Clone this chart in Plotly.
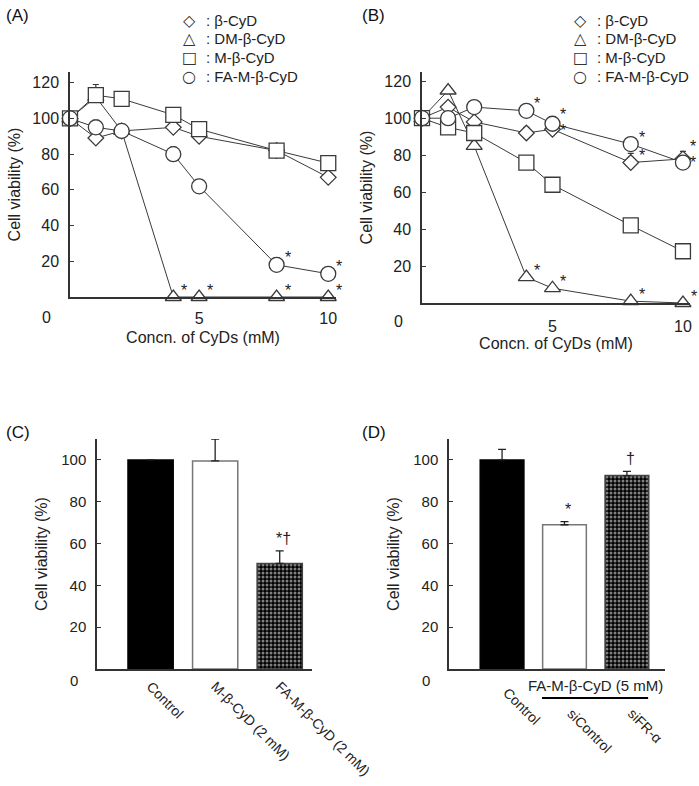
import plotly.graph_objects as go

W, H = 699, 786

# ---------------- data ----------------
conc = [0, 1, 2, 4, 5, 8, 10]

beta_A = [100, 89, 93, 95, 90, 82, 67]
dm_A = [100, 112, 93, 0, 0, 0, 0]
m_A = [100, 113, 111, 102, 94, 82, 75]
fa_A = [100, 95, 93, 80, 62, 18, 13]
beta_A_err = [0, 0, 0, 2, 2, 0, 0]
dm_A_err = [0, 7, 2, 0, 0, 0, 0]
m_A_err = [0, 0, 4, 4, 3, 0, 0]
fa_A_err = [0, 4, 0, 4, 0, 4, 2]

beta_B = [100, 106, 98, 92, 94, 76, 78]
dm_B = [100, 115, 85, 14, 8, 1, 0]
m_B = [100, 95, 92, 76, 64, 42, 28]
fa_B = [100, 100, 106, 104, 97, 86, 76]
beta_B_err = [0, 0, 0, 3, 0, 5, 4]
dm_B_err = [0, 0, 0, 0, 0, 0, 0]
m_B_err = [0, 0, 0, 0, 0, 0, 0]
fa_B_err = [0, 0, 0, 0, 0, 0, 0]

# significance marks: (series, index)
ast_A = [("dm", 3), ("dm", 4), ("dm", 5), ("dm", 6), ("fa", 5), ("fa", 6)]
ast_B = [("dm", 3), ("dm", 4), ("dm", 5), ("dm", 6),
         ("fa", 3), ("fa", 4), ("fa", 5), ("fa", 6),
         ("beta", 4), ("beta", 5), ("beta", 6)]

series_names = ["β-CyD", "DM-β-CyD", "M-β-CyD", "FA-M-β-CyD"]
legend_glyphs = ["◇", "△", "□", "○"]

cats_C = ["Control", "M-β-CyD (2 mM)", "FA-M-β-CyD (2 mM)"]
vals_C = [100, 99.5, 50.5]
err_C = [0, 10.5, 6]
marks_C = ["", "", "*†"]

cats_D = ["Control", "siControl", "siFR-α"]
vals_D = [100, 69, 92.5]
err_D = [5, 1.5, 2]
marks_D = ["", "*", "†"]
group_D = "FA-M-β-CyD (5 mM)"

yticks_line = [20, 40, 60, 80, 100, 120]
yticks_bar = [20, 40, 60, 80, 100]
xticks_line = [5, 10]

# ---------------- styling ----------------
FONT = "Liberation Sans, Arial, sans-serif"
LC = "#3a3a3a"
AX = "#333333"
TXT = "#222222"
symbols = {"beta": "diamond", "dm": "triangle-up", "m": "square", "fa": "circle"}
msize = {"beta": 12, "dm": 14, "m": 15, "fa": 15}

fig = go.Figure()

def add_line_panel(xa, ya, data):
    for key, vals, err, name in data:
        fig.add_trace(go.Scatter(
            x=conc, y=vals, mode="lines+markers", name=name,
            xaxis=xa, yaxis=ya, showlegend=False, cliponaxis=False,
            line=dict(color=LC, width=1),
            marker=dict(symbol=symbols[key], size=msize[key],
                        color="white", line=dict(color=LC, width=1.3)),
            error_y=dict(type="data", array=err, arrayminus=[0] * len(err),
                         symmetric=False, color=LC, thickness=1.2, width=3),
        ))

dataA = [("beta", beta_A, beta_A_err, series_names[0]),
         ("dm", dm_A, dm_A_err, series_names[1]),
         ("m", m_A, m_A_err, series_names[2]),
         ("fa", fa_A, fa_A_err, series_names[3])]
dataB = [("beta", beta_B, beta_B_err, series_names[0]),
         ("dm", dm_B, dm_B_err, series_names[1]),
         ("m", m_B, m_B_err, series_names[2]),
         ("fa", fa_B, fa_B_err, series_names[3])]
add_line_panel("x", "y", dataA)
add_line_panel("x2", "y2", dataB)

def add_bar_panel(xa, ya, cats, vals, err):
    fig.add_trace(go.Bar(
        x=cats, y=vals, xaxis=xa, yaxis=ya, width=0.7, showlegend=False,
        marker=dict(color=["black", "white", "black"],
                    line=dict(color=["black", "#777", "#444"], width=1.5),
                    pattern=dict(shape=["", "", "."], fgcolor="white",
                                 size=4, solidity=0.45, fillmode="overlay")),
        error_y=dict(type="data", array=err, arrayminus=[0] * len(err),
                     symmetric=False, color=TXT, thickness=1.3, width=4),
    ))

add_bar_panel("x3", "y3", cats_C, vals_C, err_C)
add_bar_panel("x4", "y4", cats_D, vals_D, err_D)

def dom_x(a, b):
    return [a / W, b / W]

def dom_y(top, bottom):
    return [1 - bottom / H, 1 - top / H]

axis_common = dict(showline=True, linecolor=AX, linewidth=1.5, showgrid=False,
                   zeroline=False, automargin=False,
                   tickfont=dict(family=FONT, size=16, color=TXT))

title_font = dict(family=FONT, size=16, color=TXT)

fig.update_layout(
    width=W, height=H, margin=dict(l=0, r=0, t=0, b=0, autoexpand=False),
    paper_bgcolor="white", plot_bgcolor="white", showlegend=False,
    font=dict(family=FONT, color=TXT),
    xaxis=dict(axis_common, domain=dom_x(70, 336), range=[0, 10.3], anchor="y",
               tickvals=xticks_line, ticks="", ticklabelstandoff=6,
               title=dict(text="Concn. of CyDs (mM)", font=title_font, standoff=6)),
    yaxis=dict(axis_common, domain=dom_y(72, 297), range=[0, 126], anchor="x",
               tickvals=yticks_line, ticks="inside", ticklen=4, tickcolor=AX,
               ticklabelstandoff=6,
               title=dict(text="Cell viability (%)", font=title_font, standoff=8)),
    xaxis2=dict(axis_common, domain=dom_x(422, 690), range=[0, 10.27], anchor="y2",
                tickvals=xticks_line, ticks="", ticklabelstandoff=8,
                title=dict(text="Concn. of CyDs (mM)", font=title_font, standoff=4)),
    yaxis2=dict(axis_common, domain=dom_y(72, 303), range=[0, 125], anchor="x2",
                tickvals=yticks_line, ticks="inside", ticklen=4, tickcolor=AX,
                ticklabelstandoff=6,
                title=dict(text="Cell viability (%)", font=title_font, standoff=8)),
    xaxis3=dict(axis_common, domain=dom_x(97, 312), range=[-0.83, 2.5], anchor="y3",
                ticks="", tickangle=45, tickfont=dict(family=FONT, size=14, color=TXT),
                ticklabelstandoff=2),
    yaxis3=dict(axis_common, domain=dom_y(439, 669), range=[0, 110], anchor="x3",
                tickvals=yticks_bar, ticks="inside", ticklen=4, tickcolor=AX,
                tickfont=dict(family=FONT, size=15, color=TXT), ticklabelstandoff=6,
                title=dict(text="Cell viability (%)", font=title_font, standoff=10)),
    xaxis4=dict(axis_common, domain=dom_x(449, 665), range=[-0.85, 2.61], anchor="y4",
                ticks="", showticklabels=False),
    yaxis4=dict(axis_common, domain=dom_y(439, 669), range=[0, 110], anchor="x4",
                tickvals=yticks_bar, ticks="inside", ticklen=4, tickcolor=AX,
                tickfont=dict(family=FONT, size=15, color=TXT), ticklabelstandoff=6,
                title=dict(text="Cell viability (%)", font=title_font, standoff=10)),
)

ann = []
# zero labels at origins
for xr, yr, fs, ysh in [("x", "y", 16, -10), ("x2", "y2", 16, -8),
                        ("x3", "y3", 15, -1), ("x4", "y4", 15, -1)]:
    ann.append(dict(text="0", xref=xr + " domain", yref=yr + " domain", x=0, y=0,
                    xanchor="right", yanchor="top", xshift=-17, yshift=ysh,
                    showarrow=False, font=dict(family=FONT, size=fs, color=TXT)))

# panel labels
for lab, px, py in [("(A)", 4, 16), ("(B)", 360, 16), ("(C)", 4, 432), ("(D)", 360, 432)]:
    ann.append(dict(text=lab, xref="paper", yref="paper", x=px / W, y=1 - py / H,
                    xanchor="left", yanchor="middle", showarrow=False,
                    font=dict(family=FONT, size=17, color="#111")))

# legends
for x0 in [189, 580]:
    for i, (g, n) in enumerate(zip(legend_glyphs, series_names)):
        yy = 1 - (20 + 18.7 * i) / H
        ann.append(dict(text=g, xref="paper", yref="paper", x=x0 / W, y=yy,
                        xanchor="center", yanchor="middle", showarrow=False,
                        font=dict(family="DejaVu Sans", size=16, color="#333")))
        ann.append(dict(text=": " + n, xref="paper", yref="paper", x=(x0 + 15) / W, y=yy,
                        xanchor="left", yanchor="middle", showarrow=False,
                        font=dict(family=FONT, size=15, color=TXT)))

# asterisks
lookupA = {"beta": beta_A, "dm": dm_A, "m": m_A, "fa": fa_A}
lookupB = {"beta": beta_B, "dm": dm_B, "m": m_B, "fa": fa_B}
for marks, lk, xr, yr in [(ast_A, lookupA, "x", "y"), (ast_B, lookupB, "x2", "y2")]:
    for key, i in marks:
        vals = lk[key]
        ys, xs = 7, 6
        if xr == "x2" and key == "beta" and i == 6:
            ys, xs = 12, 5
        if xr == "x2" and key == "fa" and i == 6:
            ys, xs = 0, 5
        if xr == "x2" and key == "beta" and i == 4:
            ys = -1
        if xr == "x2" and key == "fa" and i == 4:
            ys = 9
        ann.append(dict(text="*", xref=xr, yref=yr, x=conc[i], y=vals[i],
                        xanchor="left", yanchor="middle", xshift=xs, yshift=ys,
                        showarrow=False, font=dict(family=FONT, size=16, color=TXT)))

# bar significance marks
for cats, vals, err, marks, xr, yr in [(cats_C, vals_C, err_C, marks_C, "x3", "y3"),
                                       (cats_D, vals_D, err_D, marks_D, "x4", "y4")]:
    for c, v, e, m in zip(cats, vals, err, marks):
        if m:
            ann.append(dict(text=m, xref=xr, yref=yr, x=c, y=v + e,
                            xanchor="center", yanchor="bottom", yshift=2, xshift=4,
                            showarrow=False, font=dict(family=FONT, size=16, color=TXT)))

# D group label and category labels (below the axis, paper y)
ann.append(dict(text=group_D, xref="x4", yref="paper", x=1.5, y=1 - 685 / H,
                xanchor="center", yanchor="middle", showarrow=False,
                font=dict(family=FONT, size=15, color=TXT)))
d_label_pos = [(-0.08, 682), (0.96, 703), (1.92, 703)]
for c, (lx, ly) in zip(cats_D, d_label_pos):
    ann.append(dict(text=c, xref="x4", yref="paper", x=lx, y=1 - ly / H, textangle=45,
                    xanchor="left", yanchor="top", showarrow=False,
                    font=dict(family=FONT, size=14, color=TXT)))

fig.update_layout(annotations=ann)

fig.add_shape(type="line", xref="x4", yref="paper", x0=0.64, x1=2.34,
              y0=1 - 698 / H, y1=1 - 698 / H, line=dict(color="black", width=2))

fig.write_html("out.html", config={"displayModeBar": False},
               post_script="document.body.style.margin='0';document.body.style.overflow='hidden';")
